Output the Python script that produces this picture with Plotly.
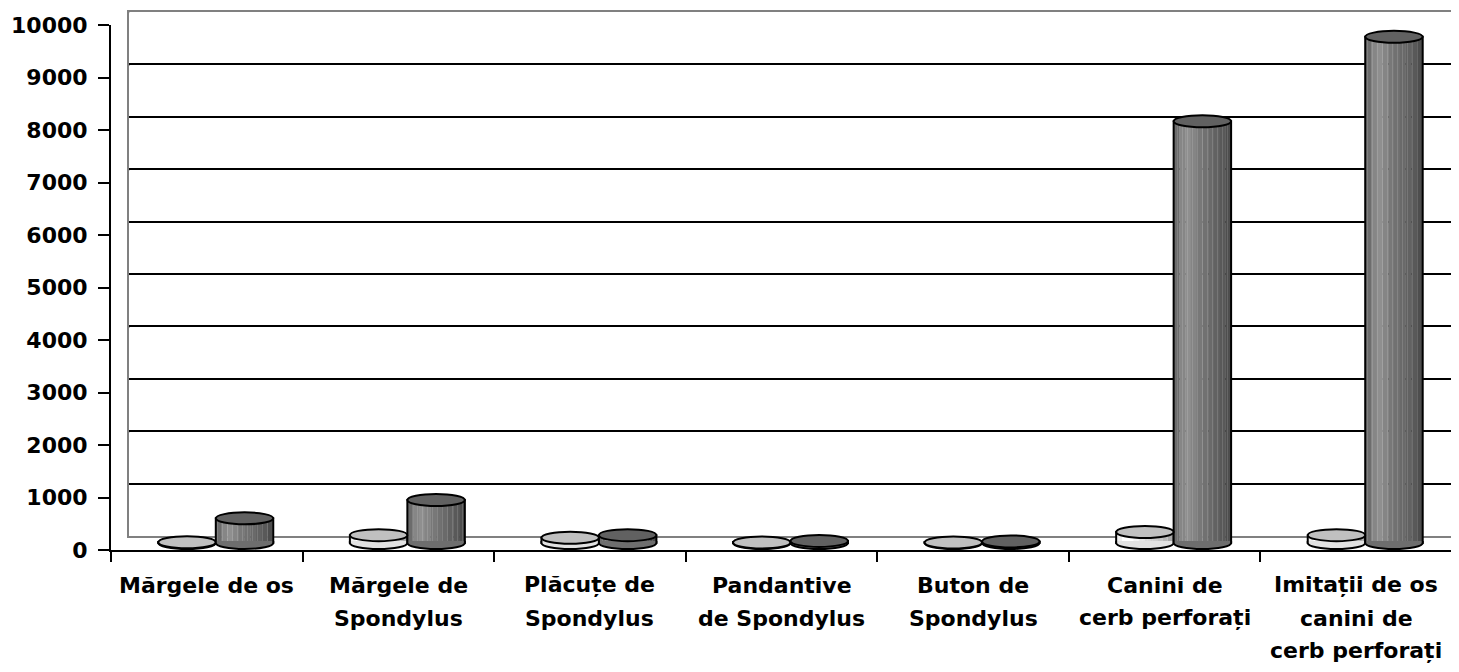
import plotly.graph_objects as go

# dados
categorias = ["Mărgele de os", "Mărgele de<br>Spondylus", "Plăcuțe de<br>Spondylus",
              "Pandantive<br>de Spondylus", "Buton de<br>Spondylus",
              "Canini de<br>cerb perforați", "Imitații de os<br>canini de<br>cerb perforați"]
serie_clara = [15, 150, 100, 10, 10, 210, 150]
serie_escura = [470, 820, 150, 40, 30, 8040, 9650]
y_ticks = [0, 1000, 2000, 3000, 4000, 5000, 6000, 7000, 8000, 9000, 10000]

# geometria (pixels da janela; a página tem margem de 8px)
O = 8
W, H = 1459 - O, 672 - O
fx0, fx1 = 111, 1452          # plano frontal
fy0, fy1 = 550, 25
dx, dy = 18, 14               # profundidade
pxcat = (fx1 - fx0) / len(categorias)

def px(v):
    return (v - O) / W

def py(v):
    return (H - (v - O)) / H

fig = go.Figure()

# eixo frontal com categorias (trace invisivel)
fig.add_trace(go.Scatter(x=categorias, y=[0] * len(categorias), mode="markers",
                         marker=dict(opacity=0), hoverinfo="skip", showlegend=False))

# corpos dos cilindros com degradê (fatias de barras)
w = 0.3
cores_clara = ["#eeeeee", "#ffffff", "#ffffff", "#f3f3f3", "#e6e6e6",
               "#dadada", "#cfcfcf", "#c4c4c4", "#b8b8b8", "#a8a8a8"]
cores_escura = ["#6c6c6c", "#868686", "#8f8f8f", "#858585", "#787878",
                "#717171", "#6a6a6a", "#626262", "#595959", "#4e4e4e"]
idx = list(range(len(categorias)))
for vals, off, cores in [(serie_clara, -w, cores_clara), (serie_escura, 0.0, cores_escura)]:
    n = len(cores)
    for j, c in enumerate(cores):
        fig.add_trace(go.Bar(x=idx, y=vals, base=0, width=w / n + 0.002, offset=off + j * w / n,
                             marker=dict(color=c, line=dict(width=0)),
                             xaxis="x3", yaxis="y3", hoverinfo="skip", showlegend=False))
    fig.add_trace(go.Bar(x=idx, y=vals, base=0, width=w, offset=off,
                         marker=dict(color="rgba(0,0,0,0)", line=dict(color="black", width=2),
                                     pattern=dict(shape="|", fgcolor="rgba(255,255,255,0.35)",
                                                  size=5, solidity=0.15, fillmode="overlay")),
                         xaxis="x3", yaxis="y3", hoverinfo="skip", showlegend=False))

# elipses (base e topo)
h = 6
k = 0.5523
shapes = []
for i in idx:
    for vals, off, topo, corpo in [(serie_clara, -w, "#c0c0c0", "#e2e2e2"),
                                   (serie_escura, 0.0, "#616161", "#6e6e6e")]:
        xl, xr = i + off, i + off + w
        xc, a = (xl + xr) / 2, w / 2
        path = (f"M{xl},2 L{xl},0 C{xl},{-h * k} {xc - a * k},{-h} {xc},{-h} "
                f"C{xc + a * k},{-h} {xr},{-h * k} {xr},0 L{xr},2")
        shapes.append(dict(type="path", path=path, xref="x3", yref="y3", ysizemode="pixel",
                           yanchor=0, fillcolor=corpo, line=dict(color="black", width=2),
                           layer="above"))
        shapes.append(dict(type="circle", xref="x3", yref="y3", x0=xl, x1=xr,
                           ysizemode="pixel", yanchor=vals[i], y0=-h, y1=h,
                           fillcolor=topo, line=dict(color="black", width=2), layer="above"))

# ligações diagonais entre o eixo frontal e a parede do fundo
for t in y_ticks:
    cor = "#808080" if t in (0, 10000) else "black"
    shapes.append(dict(type="line", xref="x2", yref="y2", xsizemode="pixel", ysizemode="pixel",
                       xanchor=-0.5, yanchor=t, x0=-dx, x1=0, y0=-dy, y1=0,
                       line=dict(color=cor, width=2), layer="below"))
shapes.append(dict(type="line", xref="x2", yref="y2", xsizemode="pixel", ysizemode="pixel",
                   xanchor=len(categorias) - 0.5, yanchor=0, x0=-dx, x1=0, y0=-dy, y1=0,
                   line=dict(color="black", width=2), layer="below"))

fonte = dict(family="DejaVu Sans", size=22, color="black", weight="bold")

# rótulos das categorias, linha a linha (espaçamento do original)
linhas_y = [585, 618, 651]
annotations = []
for cat in categorias:
    for n_linha, texto in enumerate(cat.split("<br>")):
        annotations.append(dict(x=cat, y=py(linhas_y[n_linha]), xref="x", yref="paper",
                                text=texto, showarrow=False, font=fonte,
                                xanchor="center", yanchor="middle"))

# plano do meio: estende-se abaixo do zero para não cortar as elipses da base
my0, my1 = fy0 - dy / 2, fy1 - 6.5
pad = 15
ymin = -pad * 10000 / (my0 - my1)

fig.update_layout(
    width=W, height=H,
    margin=dict(l=0, r=0, t=0, b=0, autoexpand=False),
    paper_bgcolor="white", plot_bgcolor="rgba(0,0,0,0)",
    barmode="overlay",
    showlegend=False,
    shapes=shapes,
    annotations=annotations,
    font=fonte,
    xaxis=dict(domain=[px(fx0), px(fx1)], range=[-0.5, len(categorias) - 0.5], type="category",
               anchor="y", showline=True, linecolor="black", linewidth=2, automargin=False,
               ticks="outside", tickson="boundaries", ticklen=10, tickwidth=2, tickcolor="black",
               showgrid=False, zeroline=False, showticklabels=False),
    yaxis=dict(domain=[py(fy0), py(fy1)], range=[0, 10000], anchor="x", automargin=False,
               tickvals=y_ticks, tickformat="d", showline=True, linecolor="black", linewidth=2,
               ticks="outside", ticklen=11, tickwidth=2, tickcolor="black",
               showgrid=False, zeroline=False, ticklabelstandoff=6, tickfont=fonte),
    xaxis2=dict(domain=[px(fx0 + dx), 1], range=[-0.5, -0.5 + (W + O - fx0 - dx) / pxcat],
                anchor="y2", showline=True, mirror=True, linecolor="#808080", linewidth=2,
                automargin=False, showticklabels=False, ticks="", showgrid=False, zeroline=False),
    yaxis2=dict(domain=[py(fy0 - dy), py(fy1 - 13)], range=[0, 10000], anchor="x2",
                tickvals=y_ticks[1:-1], showgrid=True, gridcolor="black", gridwidth=2,
                showline=True, linecolor="#808080", linewidth=2, automargin=False,
                showticklabels=False, ticks="", zeroline=False),
    xaxis3=dict(domain=[px(fx0 + dx / 2), 1], range=[-0.5, -0.5 + (W + O - fx0 - dx / 2) / pxcat],
                anchor="y3", visible=False, automargin=False),
    yaxis3=dict(domain=[py(my0 + pad), py(my1)], range=[ymin, 10000], anchor="x3",
                visible=False, automargin=False),
)

fig.write_html("out.html")
